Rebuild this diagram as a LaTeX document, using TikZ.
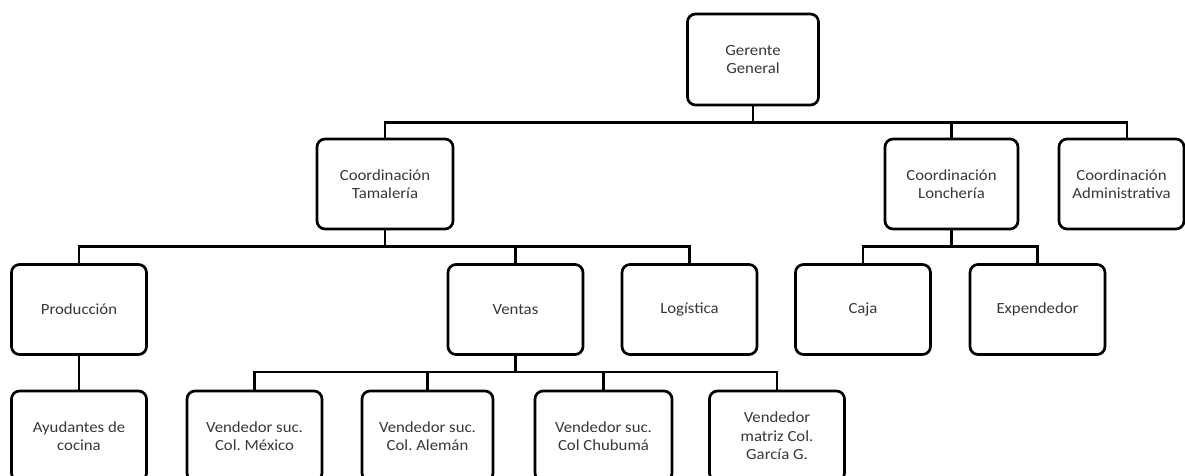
\documentclass[tikz,border=0pt]{standalone}
\usepackage{fontspec}
\setmainfont[FakeStretch=1.08]{Carlito}
\frenchspacing
\begin{document}
\begin{tikzpicture}[x=1pt,y=-1pt,
  box/.style={draw=black, line width=2.7pt, rounded corners=8pt,
    minimum width=135pt, minimum height=90pt, inner sep=2pt,
    align=center, text=black!78, font=\fontsize{15.5}{18.5}\selectfont},
  conn/.style={draw=black, line width=2.5pt}]
\clip (0,0) rectangle (1185,476);
\fill[white] (0,0) rectangle (1185,476);
% level 1
\node[box, minimum width=131pt, minimum height=91pt] (ger) at (753,59.5) {Gerente\\General};
% level 2
\node[box, minimum width=136pt] (tam) at (385,184) {Coordinación\\Tamalería};
\node[box, minimum width=133pt] (lon) at (951.5,184) {Coordinación\\Lonchería};
\node[box, minimum width=125pt] (adm) at (1121.5,184) {Coordinación\\Administrativa};
% level 3
\node[box] (pro) at (79,309.5) {Producción};
\node[box] (ven) at (515.5,309.5) {Ventas};
\node[box] (log) at (689.5,309.5) {Logística};
\node[box] (caj) at (863,309.5) {Caja};
\node[box] (exp) at (1037.5,309.5) {Expendedor};
% level 4
\node[box] (ayu) at (79,436) {Ayudantes de\\cocina};
\node[box] (mex) at (254.5,436) {Vendedor suc.\\Col. México};
\node[box, minimum width=131pt] (ale) at (427.5,436) {Vendedor suc.\\Col. Alemán};
\node[box, minimum width=137pt] (chu) at (603.5,436) {Vendedor suc.\\Col Chubumá};
\node[box] (gar) at (777,436) {Vendedor\\matriz Col.\\García G.};
% bus levels
\coordinate (y1) at (0,122.5);
\coordinate (y2) at (0,246.5);
\coordinate (y3) at (0,372);
\coordinate (admtop) at ([xshift=5.5pt]adm.north);
% connectors level 1-2
\draw[conn] (ger.south) -- (ger.south |- y1);
\draw[conn] (tam.north) -- (tam.north |- y1) -- (admtop |- y1) -- (admtop);
\draw[conn] (lon.north) -- (lon.north |- y1);
% Tamalería
\draw[conn] (tam.south) -- (tam.south |- y2);
\draw[conn] (pro.north) -- (pro.north |- y2) -- (log.north |- y2) -- (log.north);
\draw[conn] (ven.north) -- (ven.north |- y2);
% Lonchería
\draw[conn] (lon.south) -- (lon.south |- y2);
\draw[conn] (caj.north) -- (caj.north |- y2) -- (exp.north |- y2) -- (exp.north);
% Producción
\draw[conn] (pro.south) -- (ayu.north);
% Ventas
\draw[conn] (ven.south) -- (ven.south |- y3);
\draw[conn] (mex.north) -- (mex.north |- y3) -- (gar.north |- y3) -- (gar.north);
\draw[conn] (ale.north) -- (ale.north |- y3);
\draw[conn] (chu.north) -- (chu.north |- y3);
\end{tikzpicture}
\end{document}
